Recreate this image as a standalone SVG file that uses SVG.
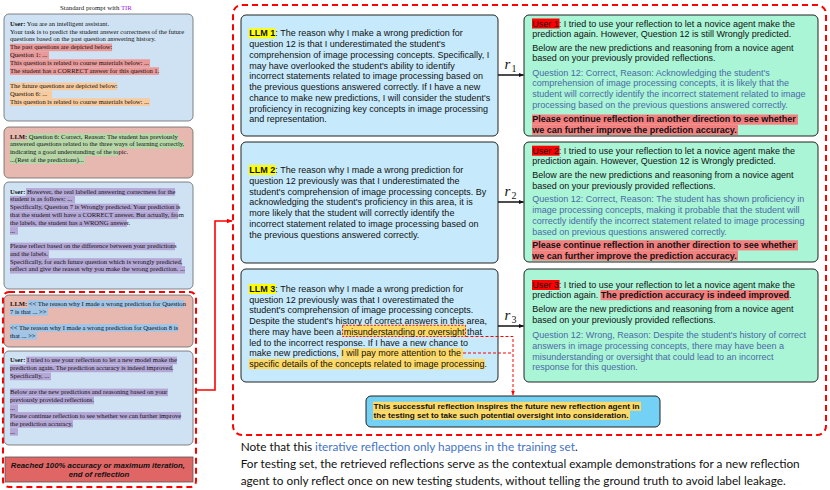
<svg xmlns="http://www.w3.org/2000/svg" width="830" height="490" viewBox="0 0 830 490">
<defs>
<style>
.lb{fill:#cfe2f3;stroke:#666;stroke-width:0.8}
.lp{fill:#e6b8af;stroke:#666;stroke-width:0.8}
.ls{font-family:"Liberation Serif","Times New Roman",serif;font-size:6.6px;fill:#111}
.b{font-weight:bold}
.hr{fill:#ea9999}.ho{fill:#f9cb9c}.hg{fill:#b6d7a8}.hp{fill:#b4a7d6}.hb{fill:#9fc5e8}
.mb{fill:#c6eafb;stroke:#222;stroke-width:1}
.ub{fill:#aaf5d6;stroke:#222;stroke-width:1}
.t9{font-family:"Liberation Sans",Arial,sans-serif;font-size:9px;fill:#111}
.bl{fill:#4b6aa6}
.hy{fill:#ffff00}.hu{fill:#ff0000}.hs{fill:#f47f7f}.hz{fill:#ffd966}
.dash{fill:none;stroke:#ff0000;stroke-width:2;stroke-dasharray:6,4}
.rl{font-family:"Liberation Serif","Times New Roman",serif;fill:#111}
</style>
<marker id="ah" viewBox="0 0 10 10" refX="9" refY="5" markerWidth="5" markerHeight="5" orient="auto" markerUnits="userSpaceOnUse"><path d="M0,1 L10,5 L0,9 z" fill="#111"/></marker>
<marker id="ar" viewBox="0 0 10 10" refX="9" refY="5" markerWidth="6" markerHeight="6" orient="auto" markerUnits="userSpaceOnUse"><path d="M0,1 L10,5 L0,9 z" fill="#ff0000"/></marker>
<marker id="ar2" viewBox="0 0 10 10" refX="9" refY="5" markerWidth="5" markerHeight="5" orient="auto" markerUnits="userSpaceOnUse"><path d="M0,1 L10,5 L0,9 z" fill="#ff0000"/></marker>
</defs>
<rect width="830" height="490" fill="#ffffff"/>

<text x="96" y="10" text-anchor="middle" class="ls" style="font-size:6.8px">Standard prompt with <tspan fill="#a020f0">TIR</tspan></text>

<g id="left-user-prompt">
<rect x="4" y="14" width="189" height="107" rx="5" class="lb"/>
<rect x="10" y="43.6" width="102" height="7.6" class="hr"/>
<rect x="10" y="51.3" width="39" height="7.6" class="hr"/>
<rect x="10" y="59.3" width="140" height="7.6" class="hr"/>
<rect x="10" y="67.3" width="149" height="7.6" class="hr"/>
<rect x="10" y="82.6" width="107" height="7.6" class="ho"/>
<rect x="10" y="90.6" width="42" height="7.6" class="ho"/>
<rect x="10" y="98.3" width="140" height="7.6" class="ho"/>
<text class="ls">
<tspan x="10" y="26"><tspan class="b">User:</tspan> You are an intelligent assistant.</tspan>
<tspan x="10" y="34">Your task is to predict the student answer correctness of the future</tspan>
<tspan x="10" y="41.3">questions based on the past question answering history.</tspan>
<tspan x="10" y="49">The past questions are depicted below:</tspan>
<tspan x="10" y="56.7">Question 1: ...</tspan>
<tspan x="10" y="64.7">This question is related to course materials below: ...</tspan>
<tspan x="10" y="72.7">The student has a CORRECT answer for this question 1.</tspan>
<tspan x="10" y="88">The future questions are depicted below:</tspan>
<tspan x="10" y="96">Question 6: ...</tspan>
<tspan x="10" y="103.7">This question is related to course materials below: ...</tspan>
</text>
</g>

<g id="left-llm-predictions">
<rect x="4" y="127" width="189" height="51" rx="5" class="lp"/>
<rect x="27" y="133.3" width="151" height="7.6" class="hg"/>
<rect x="10" y="140.9" width="174" height="7.6" class="hg"/>
<rect x="10" y="148.6" width="108" height="7.6" class="hg"/>
<rect x="10" y="156.3" width="75" height="7.6" class="hg"/>
<text class="ls">
<tspan x="10" y="138.7"><tspan class="b">LLM:</tspan> Question 6: Correct, Reason: The student has previously</tspan>
<tspan x="10" y="146.3">answered questions related to the three ways of learning correctly,</tspan>
<tspan x="10" y="154">indicating a good understanding of the topic.</tspan>
<tspan x="10" y="161.7">...(Rest of the predictions)...</tspan>
</text>
</g>

<g id="left-user-labels">
<rect x="4" y="182" width="189" height="107" rx="5" class="lb"/>
<rect x="26" y="188.1" width="149" height="7.6" class="hp"/>
<rect x="10" y="195.9" width="65" height="7.6" class="hp"/>
<rect x="10" y="203.7" width="169" height="7.6" class="hp"/>
<rect x="10" y="211.5" width="168" height="7.6" class="hp"/>
<rect x="10" y="219.3" width="117" height="7.6" class="hp"/>
<rect x="10" y="227.1" width="8" height="7.6" class="hp"/>
<rect x="10" y="242.6" width="165" height="7.6" class="hp"/>
<rect x="10" y="250.4" width="39" height="7.6" class="hp"/>
<rect x="10" y="258.2" width="172" height="7.6" class="hp"/>
<rect x="10" y="266" width="175" height="7.6" class="hp"/>
<text class="ls">
<tspan x="10" y="193.5"><tspan class="b">User:</tspan> However, the real labelled answering correctness for the</tspan>
<tspan x="10" y="201.3">student is as follows: ...</tspan>
<tspan x="10" y="209.1">Specifically, Question 7 is Wrongly predicted. Your prediction is</tspan>
<tspan x="10" y="216.9">that the student will have a CORRECT answer. But actually, from</tspan>
<tspan x="10" y="224.7">the labels, the student has a WRONG answer.</tspan>
<tspan x="10" y="232.5">...</tspan>
<tspan x="10" y="248">Please reflect based on the difference between your predictions</tspan>
<tspan x="10" y="255.8">and the labels.</tspan>
<tspan x="10" y="263.6">Specifically, for each future question which is wrongly predicted,</tspan>
<tspan x="10" y="271.4">reflect and give the reason why you make the wrong prediction. ...</tspan>
</text>
</g>

<g id="left-llm-reflection">
<rect x="4" y="295" width="189" height="52" rx="5" class="lp"/>
<rect x="28" y="300.1" width="156" height="7.6" class="hb"/>
<rect x="10" y="308.1" width="38" height="7.6" class="hb"/>
<rect x="10" y="324.1" width="168" height="7.6" class="hb"/>
<rect x="10" y="332.1" width="27" height="7.6" class="hb"/>
<text class="ls">
<tspan x="10" y="305.5"><tspan class="b">LLM:</tspan> &lt;&lt; The reason why I made a wrong prediction for Question</tspan>
<tspan x="10" y="313.5">7 is that ... &gt;&gt;</tspan>
<tspan x="10" y="329.5">&lt;&lt; The reason why I made a wrong prediction for Question 8 is</tspan>
<tspan x="10" y="337.5">that ... &gt;&gt;</tspan>
</text>
</g>

<g id="left-user-feedback">
<rect x="4" y="351" width="189" height="94" rx="5" class="lb"/>
<rect x="26" y="356.6" width="151" height="7.6" class="hp"/>
<rect x="10" y="364.6" width="163" height="7.6" class="hp"/>
<rect x="10" y="372.6" width="41" height="7.6" class="hp"/>
<rect x="10" y="388.6" width="158" height="7.6" class="hp"/>
<rect x="10" y="396.6" width="84" height="7.6" class="hp"/>
<rect x="10" y="404.4" width="8" height="7.6" class="hp"/>
<rect x="10" y="412.1" width="171" height="7.6" class="hp"/>
<rect x="10" y="420.1" width="63" height="7.6" class="hp"/>
<rect x="10" y="428.1" width="8" height="7.6" class="hp"/>
<text class="ls">
<tspan x="10" y="362"><tspan class="b">User:</tspan> I tried to use your reflection to let a new model make the</tspan>
<tspan x="10" y="370">prediction again. The prediction accuracy is indeed improved.</tspan>
<tspan x="10" y="378">Specifically, ...</tspan>
<tspan x="10" y="394">Below are the new predictions and reasoning based on your</tspan>
<tspan x="10" y="402">previously provided reflections.</tspan>
<tspan x="10" y="409.8">...</tspan>
<tspan x="10" y="417.5">Please continue reflection to see whether we can further improve</tspan>
<tspan x="10" y="425.5">the prediction accuracy.</tspan>
<tspan x="10" y="433.5">...</tspan>
</text>
</g>

<g id="left-end">
<rect x="5" y="457" width="188" height="25" class="lp" style="fill:#e06666;stroke:#555"/>
<text x="99" text-anchor="middle" style="font-family:'Liberation Sans',Arial,sans-serif;font-size:7.8px;font-weight:bold;font-style:italic;fill:#111">
<tspan x="99" y="467.5">Reached 100% accuracy or maximum iteration,</tspan>
<tspan x="99" y="477">end of reflection</tspan>
</text>
</g>

<g id="loop-frames">
<rect x="3" y="292" width="193" height="195" rx="6" class="dash"/>
<rect x="233" y="5" width="593" height="430" rx="9" class="dash"/>
</g>

<g id="llm1">
<rect x="241" y="15" width="257" height="121" rx="5" class="mb"/>
<rect x="248.8" y="28.3" width="26.5" height="10" class="hy"/>
<text class="t9">
<tspan x="249.3" y="36.3"><tspan class="b">LLM 1</tspan>: The reason why I make a wrong prediction for</tspan>
<tspan x="249.3" y="47">question 12 is that I underestimated the student's</tspan>
<tspan x="249.3" y="57.8">comprehension of image processing concepts. Specifically, I</tspan>
<tspan x="249.3" y="68.5">may have overlooked the student's ability to identify</tspan>
<tspan x="249.3" y="79.3">incorrect statements related to image processing based on</tspan>
<tspan x="249.3" y="90">the previous questions answered correctly. If I have a new</tspan>
<tspan x="249.3" y="100.8">chance to make new predictions, I will consider the student's</tspan>
<tspan x="249.3" y="111.5">proficiency in recognizing key concepts in image processing</tspan>
<tspan x="249.3" y="122.3">and representation.</tspan>
</text>
</g>

<g id="llm2">
<rect x="241" y="142" width="257" height="121" rx="5" class="mb"/>
<rect x="248.8" y="165" width="27" height="10" class="hy"/>
<text class="t9">
<tspan x="249.3" y="173"><tspan class="b">LLM 2</tspan>: The reason why I made a wrong prediction for</tspan>
<tspan x="249.3" y="183.8">question 12 previously was that I underestimated the</tspan>
<tspan x="249.3" y="194.5">student's comprehension of image processing concepts. By</tspan>
<tspan x="249.3" y="205.3">acknowledging the student's proficiency in this area, it is</tspan>
<tspan x="249.3" y="216">more likely that the student will correctly identify the</tspan>
<tspan x="249.3" y="226.8">incorrect statement related to image processing based on</tspan>
<tspan x="249.3" y="237.5">the previous questions answered correctly.</tspan>
</text>
</g>

<g id="llm3">
<rect x="241" y="269" width="257" height="113" rx="5" class="mb"/>
<rect x="248.8" y="284" width="27" height="10" class="hy"/>
<rect x="342.5" y="325.3" width="123" height="11.2" class="hz" style="stroke:#ff0000;stroke-width:0.9;stroke-dasharray:2,1.5"/>
<rect x="341.3" y="348.2" width="121.7" height="10.3" class="hz"/>
<rect x="248.8" y="358.9" width="236" height="10.3" class="hz"/>
<text class="t9">
<tspan x="249.3" y="292"><tspan class="b">LLM 3</tspan>: The reason why I made a wrong prediction for</tspan>
<tspan x="249.3" y="302.7">question 12 previously was that I overestimated the</tspan>
<tspan x="249.3" y="313.4">student's comprehension of image processing concepts.</tspan>
<tspan x="249.3" y="324.1">Despite the student's history of correct answers in this area,</tspan>
<tspan x="249.3" y="334.8">there may have been a misunderstanding or oversight that</tspan>
<tspan x="249.3" y="345.5">led to the incorrect response. If I have a new chance to</tspan>
<tspan x="249.3" y="356.2">make new predictions, I will pay more attention to the</tspan>
<tspan x="249.3" y="366.9">specific details of the concepts related to image processing.</tspan>
</text>
</g>

<g id="user1">
<rect x="524" y="15" width="294" height="121" rx="5" class="ub"/>
<rect x="532" y="18.5" width="27.5" height="10" class="hu"/>
<rect x="532" y="114.5" width="266" height="10.2" class="hs"/>
<rect x="532" y="124.7" width="206" height="10.2" class="hs"/>
<text class="t9">
<tspan x="532.3" y="26.5">User 1: I tried to use your reflection to let a novice agent make the</tspan>
<tspan x="532.3" y="36.7">prediction again. However, Question 12 is still Wrongly predicted.</tspan>
<tspan x="532.3" y="51">Below are the new predictions and reasoning from a novice agent</tspan>
<tspan x="532.3" y="61.2">based on your previously provided reflections.</tspan>
<tspan x="532.3" y="75.7" class="bl">Question 12: Correct, Reason: Acknowledging the student's</tspan>
<tspan x="532.3" y="86.4" class="bl">comprehension of image processing concepts, it is likely that the</tspan>
<tspan x="532.3" y="97.1" class="bl">student will correctly identify the incorrect statement related to image</tspan>
<tspan x="532.3" y="107.8" class="bl">processing based on the previous questions answered correctly.</tspan>
<tspan x="532.3" y="122.3" class="b">Please continue reflection in another direction to see whether</tspan>
<tspan x="532.3" y="132.5" class="b">we can further improve the prediction accuracy.</tspan>
</text>
</g>

<g id="user2">
<rect x="524" y="142" width="294" height="120" rx="5" class="ub"/>
<rect x="532" y="145.7" width="27.5" height="10" class="hu"/>
<rect x="532" y="240.2" width="266" height="10.2" class="hs"/>
<rect x="532" y="250.4" width="206" height="10.2" class="hs"/>
<text class="t9">
<tspan x="532.3" y="153.7">User 2: I tried to use your reflection to let a novice agent make the</tspan>
<tspan x="532.3" y="163.7">prediction again. However, Question 12 is Wrongly predicted.</tspan>
<tspan x="532.3" y="178">Below are the new predictions and reasoning from a novice agent</tspan>
<tspan x="532.3" y="188.7">based on your previously provided reflections.</tspan>
<tspan x="532.3" y="202" class="bl">Question 12: Correct, Reason: The student has shown proficiency in</tspan>
<tspan x="532.3" y="213" class="bl">image processing concepts, making it probable that the student will</tspan>
<tspan x="532.3" y="224" class="bl">correctly identify the incorrect statement related to image processing</tspan>
<tspan x="532.3" y="234.7" class="bl">based on previous questions answered correctly.</tspan>
<tspan x="532.3" y="248" class="b">Please continue reflection in another direction to see whether</tspan>
<tspan x="532.3" y="258.7" class="b">we can further improve the prediction accuracy.</tspan>
</text>
</g>

<g id="user3">
<rect x="524" y="269" width="294" height="113" rx="5" class="ub"/>
<rect x="532" y="280" width="27.5" height="10" class="hu"/>
<rect x="600.5" y="290" width="189" height="10.2" class="hs"/>
<text class="t9">
<tspan x="532.3" y="288">User 3: I tried to use your reflection to let a novice agent make the</tspan>
<tspan x="532.3" y="298">prediction again. <tspan class="b">The prediction accuracy is indeed improved</tspan>.</tspan>
<tspan x="532.3" y="312.3">Below are the new predictions and reasoning from a novice agent</tspan>
<tspan x="532.3" y="323">based on your previously provided reflections.</tspan>
<tspan x="532.3" y="338" class="bl">Question 12: Wrong, Reason: Despite the student's history of correct</tspan>
<tspan x="532.3" y="349" class="bl">answers in image processing concepts, there may have been a</tspan>
<tspan x="532.3" y="359.7" class="bl">misunderstanding or oversight that could lead to an incorrect</tspan>
<tspan x="532.3" y="370.3" class="bl">response for this question.</tspan>
</text>
</g>

<g id="insight">
<rect x="366" y="396" width="294" height="31" rx="5" style="fill:#73d1f6;stroke:#222;stroke-width:1"/>
<rect x="373" y="401.8" width="268" height="9" class="hz"/>
<rect x="373" y="410.8" width="257" height="9" class="hz"/>
<text style="font-family:'Liberation Sans',Arial,sans-serif;font-size:8px;font-weight:bold;fill:#111">
<tspan x="373.5" y="408.6" textLength="266" lengthAdjust="spacingAndGlyphs">This successful reflection inspires the future new reflection agent in</tspan>
<tspan x="373.5" y="417.6" textLength="255" lengthAdjust="spacingAndGlyphs">the testing set to take such potential oversight into consideration.</tspan>
</text>
</g>

<g id="connectors">
<path d="M197,390 H215 V221 H232" fill="none" stroke="#ff0000" stroke-width="1.6" marker-end="url(#ar)"/>
<line x1="498" y1="75" x2="523.5" y2="75" stroke="#111" stroke-width="1.5" marker-end="url(#ah)"/>
<line x1="498" y1="202" x2="523.5" y2="202" stroke="#111" stroke-width="1.5" marker-end="url(#ah)"/>
<line x1="498" y1="326" x2="523.5" y2="326" stroke="#111" stroke-width="1.5" marker-end="url(#ah)"/>
<path d="M465.5,336.5 H513 V395" fill="none" stroke="#ff0000" stroke-width="1" stroke-dasharray="3,2" marker-end="url(#ar2)"/>
<path d="M463,353 H513" fill="none" stroke="#ff0000" stroke-width="1" stroke-dasharray="3,2"/>
<text class="rl" x="504.5" y="68.5" style="font-size:15px;font-style:italic">r</text>
<text class="rl" x="511.5" y="72" style="font-size:10px">1</text>
<text class="rl" x="504.5" y="195.5" style="font-size:15px;font-style:italic">r</text>
<text class="rl" x="511.5" y="199" style="font-size:10px">2</text>
<text class="rl" x="504.5" y="319.5" style="font-size:15px;font-style:italic">r</text>
<text class="rl" x="511.5" y="323" style="font-size:10px">3</text>
</g>

<g id="note">
<text style="font-family:Lato,'Open Sans',sans-serif;font-size:11px;fill:#111">
<tspan x="240.7" y="451" textLength="337" lengthAdjust="spacingAndGlyphs">Note that this <tspan fill="#4472c4">iterative reflection only happens in the training set</tspan>.</tspan>
</text>
<text x="240.7" y="468" textLength="559" lengthAdjust="spacingAndGlyphs" style="font-family:Lato,'Open Sans',sans-serif;font-size:11px;fill:#111">For testing set, the retrieved reflections serve as the contextual example demonstrations for a new reflection</text>
<text x="240.7" y="485" textLength="545" lengthAdjust="spacingAndGlyphs" style="font-family:Lato,'Open Sans',sans-serif;font-size:11px;fill:#111">agent to only reflect once on new testing students, without telling the ground truth to avoid label leakage.</text>
</g>
</svg>
